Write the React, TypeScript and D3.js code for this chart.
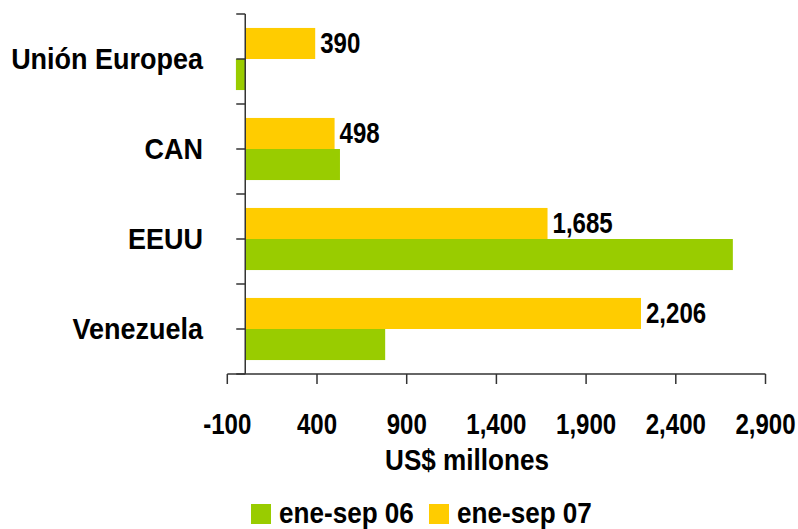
import * as d3 from "d3";

const categories = ["Unión Europea", "CAN", "EEUU", "Venezuela"];
const series = ["ene-sep 07", "ene-sep 06"];
const legendOrder = ["ene-sep 06", "ene-sep 07"];
const values06 = [-52, 528, 2718, 780];
const values07 = [390, 498, 1685, 2206];
const xTicks = [-100, 400, 900, 1400, 1900, 2400, 2900];

const colors: Record<string, string> = {
  "ene-sep 06": "#99CC00",
  "ene-sep 07": "#FFCC00",
};

// no narrow font installed, so squeeze Liberation Sans horizontally
const FONT = "'Liberation Sans', Arial, sans-serif";
const NUM_SX = 0.83;
const WORD_SX = 0.9;

const locale = d3.formatLocale({
  decimal: ".",
  thousands: ",",
  grouping: [3],
  currency: ["$", ""],
  minus: "-",
});
const fmt = locale.format(",");

function Txt({
  x,
  y,
  sx,
  size,
  anchor = "start",
  children,
}: {
  x: number;
  y: number;
  sx: number;
  size: number;
  anchor?: "start" | "middle" | "end";
  children: any;
}) {
  return (
    <text
      transform={`translate(${x},${y}) scale(${sx},1)`}
      textAnchor={anchor}
      fontSize={size}
      fill="#000"
    >
      {children}
    </text>
  );
}

export default function App() {
  const width = 798;
  const height = 529;

  const x = d3.scaleLinear().domain([-100, 2900]).range([227.3, 765.5]);
  const y = d3
    .scaleBand<string>()
    .domain(categories)
    .range([14, 374])
    .paddingInner(0.31)
    .paddingOuter(0.155);
  const inner = d3.scaleBand<string>().domain(series).range([0, y.bandwidth()]);

  const rows = categories.map((c, i) => ({
    cat: c,
    "ene-sep 06": values06[i],
    "ene-sep 07": values07[i],
  }));

  const step = y.step();
  const catTicks: number[] = [];
  for (let i = 0; i <= categories.length * 2; i++) catTicks.push(14 + (i * step) / 2);

  const axisColor = "#333";

  return (
    <svg
      width={width}
      height={height}
      style={{ position: "absolute", left: 0, top: 0, background: "#fff" }}
      fontFamily={FONT}
      fontWeight="bold"
    >
      {/* bars */}
      {rows.map((r) =>
        series.map((s) => {
          const v = (r as any)[s] as number;
          const y0 = (y(r.cat) ?? 0) + (inner(s) ?? 0);
          return (
            <rect
              key={r.cat + s}
              x={Math.min(x(0), x(v))}
              y={y0}
              width={Math.abs(x(v) - x(0))}
              height={inner.bandwidth()}
              fill={colors[s]}
            />
          );
        })
      )}

      {/* data labels, ene-sep 07 only */}
      {rows.map((r) => {
        const v = r["ene-sep 07"];
        const yc = (y(r.cat) ?? 0) + (inner("ene-sep 07") ?? 0) + inner.bandwidth() / 2;
        return (
          <Txt key={"l" + r.cat} x={x(v) + 5} y={yc + 9.5} sx={NUM_SX} size={29}>
            {fmt(v)}
          </Txt>
        );
      })}

      {/* y axis */}
      <line x1={x(0)} x2={x(0)} y1={14} y2={374} stroke={axisColor} strokeWidth={1.5} />
      {catTicks.map((t, i) => (
        <line key={"yt" + i} x1={x(0) - 9} x2={x(0)} y1={t} y2={t} stroke={axisColor} strokeWidth={1.5} />
      ))}
      {categories.map((c) => (
        <Txt
          key={"c" + c}
          x={203}
          y={(y(c) ?? 0) + y.bandwidth() / 2 + 10}
          sx={WORD_SX}
          size={30}
          anchor="end"
        >
          {c}
        </Txt>
      ))}

      {/* x axis */}
      <line x1={x(-100)} x2={x(2900)} y1={374} y2={374} stroke={axisColor} strokeWidth={1.5} />
      {xTicks.map((t) => (
        <g key={"xt" + t}>
          <line x1={x(t)} x2={x(t)} y1={374} y2={384} stroke={axisColor} strokeWidth={1.5} />
          <Txt x={x(t)} y={434} sx={NUM_SX} size={29} anchor="middle">
            {fmt(t)}
          </Txt>
        </g>
      ))}
      <Txt x={467} y={470} sx={WORD_SX} size={29} anchor="middle">
        US$ millones
      </Txt>

      {/* legend */}
      {legendOrder.map((s, i) => (
        <g key={"lg" + s} transform={`translate(${251 + i * 178},504)`}>
          <rect x={0} y={0} width={20} height={20} fill={colors[s]} />
          <Txt x={28} y={19} sx={WORD_SX} size={29}>
            {s}
          </Txt>
        </g>
      ))}
    </svg>
  );
}
